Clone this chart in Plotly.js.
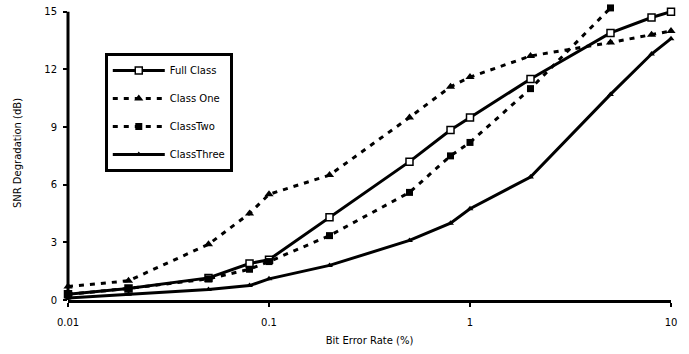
<!DOCTYPE html>
<html>
<head>
<meta charset="utf-8">
<script src="https://cdn.plot.ly/plotly-3.0.1.min.js"></script>
<style>
  html, body { margin: 0; padding: 0; background: #fff; }
  #chart { width: 689px; height: 354px; }
</style>
</head>
<body>
<div id="chart"></div>
<script>
// Bit error rate (%) at which each class was measured
const berFull = [0.01, 0.02, 0.05, 0.08, 0.1, 0.2, 0.5, 0.8, 1, 2, 5, 8, 10];
const berTwo = [0.01, 0.02, 0.05, 0.08, 0.1, 0.2, 0.5, 0.8, 1, 2, 5];

// SNR degradation (dB)
const fullClass = [0.3, 0.6, 1.15, 1.9, 2.1, 4.3, 7.2, 8.85, 9.5, 11.5, 13.9, 14.7, 15.0];
const classOne = [0.7, 1.0, 2.9, 4.5, 5.5, 6.5, 9.5, 11.1, 11.6, 12.7, 13.4, 13.8, 14.0];
const classTwo = [0.3, 0.6, 1.1, 1.6, 2.0, 3.35, 5.6, 7.5, 8.2, 11.0, 15.2];
const classThree = [0.1, 0.3, 0.55, 0.75, 1.1, 1.8, 3.1, 4.0, 4.75, 6.4, 10.7, 12.8, 13.6];

const xTicks = [0.01, 0.1, 1, 10];
const xTickText = ['0.01', '0.1', '1', '10'];
const yTicks = [0, 3, 6, 9, 12, 15];

const FONT = 'DejaVu Sans, sans-serif';

const traces = [
  {
    name: 'Full Class', x: berFull, y: fullClass, legendgroup: 'a',
    mode: 'lines+markers', cliponaxis: false,
    line: { color: '#000', width: 3 },
    marker: { symbol: 'square', size: 7, color: '#fff', line: { color: '#000', width: 1.5 } }
  },
  {
    name: 'Class One', x: berFull, y: classOne, legendgroup: 'b',
    mode: 'lines+markers', cliponaxis: false,
    line: { color: '#000', width: 3, dash: '5px,6px' },
    marker: { symbol: 'triangle-up', size: 8, color: '#000' }
  },
  {
    name: 'ClassTwo', x: berTwo, y: classTwo, legendgroup: 'c',
    mode: 'lines+markers', cliponaxis: false,
    line: { color: '#000', width: 3, dash: '5px,6px' },
    marker: { symbol: 'square', size: 7, color: '#000' }
  },
  {
    name: 'ClassThree', x: berFull, y: classThree, legendgroup: 'd',
    mode: 'lines+markers', cliponaxis: false,
    line: { color: '#000', width: 3 },
    marker: { symbol: 'triangle-up', size: 6, color: '#000' }
  }
];

const layout = {
  width: 689, height: 354,
  margin: { l: 68, r: 18, t: 6, b: 54 },
  paper_bgcolor: '#fff', plot_bgcolor: '#fff',
  font: { family: FONT, size: 10, color: '#000' },
  showlegend: true,
  legend: {
    x: 0.061, y: 0.84, xanchor: 'left', yanchor: 'top',
    bordercolor: '#000', borderwidth: 3, bgcolor: '#fff',
    font: { family: FONT, size: 10, color: '#000' },
    itemwidth: 52, tracegroupgap: 9,
    entrywidth: 124, entrywidthmode: 'pixels'
  },
  xaxis: {
    type: 'log', range: [-2, 1],
    tickvals: xTicks, ticktext: xTickText,
    ticks: 'outside', ticklen: 4, tickwidth: 2, tickcolor: '#000',
    ticklabelstandoff: 7,
    showline: true, linecolor: '#000', linewidth: 3,
    showgrid: false, zeroline: false,
    tickfont: { family: FONT, size: 10 },
    title: { text: 'Bit Error Rate (%)', font: { family: FONT, size: 10 }, standoff: 10 }
  },
  yaxis: {
    range: [0, 15.3],
    tickvals: yTicks,
    ticks: 'outside', ticklen: 4, tickwidth: 2, tickcolor: '#000',
    ticklabelstandoff: 4,
    showline: false, showgrid: false, zeroline: false,
    tickfont: { family: FONT, size: 10 },
    title: { text: 'SNR Degradation (dB)', font: { family: FONT, size: 10 }, standoff: 20 }
  },
  shapes: [
    // vertical axis line stopping at the top tick
    { type: 'line', xref: 'paper', yref: 'y', x0: 0, x1: 0, y0: 0, y1: 15,
      line: { color: '#000', width: 3 } }
  ]
};

Plotly.newPlot('chart', traces, layout, { displayModeBar: false, staticPlot: true });
</script>
</body>
</html>
